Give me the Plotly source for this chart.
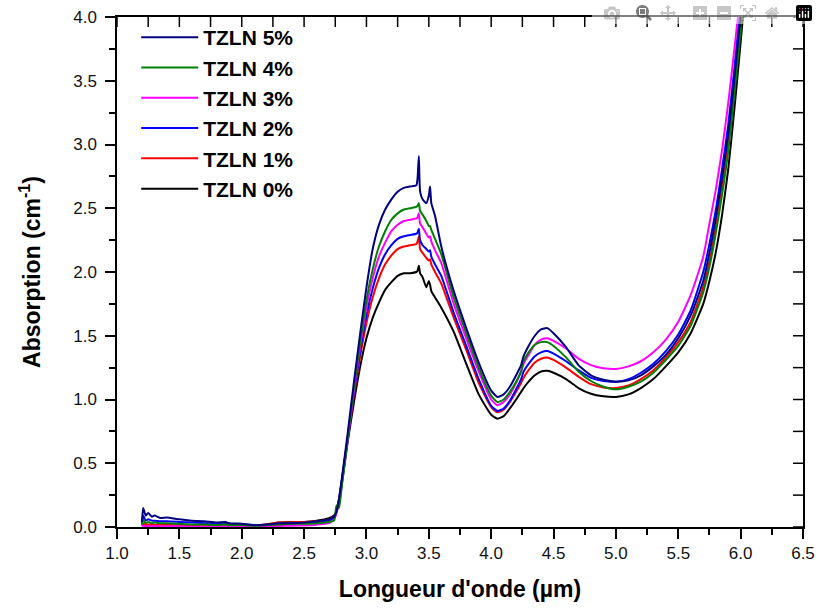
import plotly.graph_objects as go

# Wavelength grid (µm)
wavelength = [
    1.20, 1.21, 1.23, 1.25, 1.28, 1.30, 1.35, 1.40, 1.50, 1.60, 1.70, 1.80, 1.87, 1.90, 2.00, 2.10, 2.20, 2.30, 2.40, 2.50, 2.60, 2.70,
    2.74, 2.76, 2.78, 2.80, 2.85, 2.90, 2.95, 3.00, 3.05, 3.10, 3.15, 3.20, 3.25, 3.30, 3.35, 3.40,
    3.41, 3.42, 3.43, 3.45, 3.48, 3.50, 3.51, 3.52, 3.55, 3.60,
    3.70, 3.80, 3.90, 4.00, 4.05, 4.10, 4.15, 4.20, 4.24, 4.26, 4.30, 4.35, 4.40, 4.45, 4.50, 4.60, 4.70, 4.80, 4.90,
    5.00, 5.10, 5.20, 5.30, 5.40, 5.50, 5.60, 5.70, 5.75, 5.80, 5.85, 5.90, 5.95, 6.00, 6.05,
]

tzln_5 = [
    0.04, 0.15, 0.09, 0.11, 0.08, 0.09, 0.07, 0.075, 0.06, 0.05, 0.045, 0.035, 0.04, 0.03, 0.025, 0.015, 0.02, 0.03, 0.03, 0.035, 0.045, 0.06,
    0.08, 0.12, 0.22, 0.36, 0.74, 1.14, 1.52, 1.88, 2.18, 2.37, 2.49, 2.57, 2.63, 2.66, 2.67, 2.68,
    2.74, 2.91, 2.63, 2.57, 2.54, 2.60, 2.67, 2.54, 2.44, 2.20,
    1.85, 1.56, 1.29, 1.07, 1.02, 1.04, 1.10, 1.19, 1.27, 1.34, 1.42, 1.50, 1.55, 1.56, 1.52, 1.41, 1.27, 1.19, 1.155,
    1.14, 1.15, 1.19, 1.26, 1.35, 1.48, 1.66, 1.93, 2.15, 2.42, 2.73, 3.08, 3.52, 4.02, 4.55,
]

tzln_4 = [
    0.02, 0.06, 0.03, 0.04, 0.03, 0.035, 0.03, 0.03, 0.025, 0.02, 0.02, 0.015, 0.02, 0.015, 0.015, 0.01, 0.015, 0.02, 0.025, 0.025, 0.03, 0.04,
    0.05, 0.17, 0.15, 0.30, 0.70, 1.10, 1.45, 1.78, 2.02, 2.20, 2.32, 2.41, 2.46, 2.49, 2.50, 2.51,
    2.52, 2.54, 2.48, 2.45, 2.40, 2.36, 2.36, 2.33, 2.26, 2.14,
    1.80, 1.52, 1.25, 1.03, 0.98, 1.00, 1.06, 1.14, 1.22, 1.30, 1.37, 1.43, 1.45, 1.45, 1.42, 1.33, 1.22, 1.145, 1.10,
    1.08, 1.10, 1.14, 1.21, 1.31, 1.42, 1.58, 1.84, 2.04, 2.30, 2.60, 2.94, 3.40, 3.90, 4.45,
]

tzln_3 = [
    0.005, 0.01, 0.005, 0.008, 0.005, 0.006, 0.005, 0.005, 0.005, 0.004, 0.004, 0.004, 0.006, 0.004, 0.004, 0.003, 0.005, 0.008, 0.01, 0.012, 0.018, 0.03,
    0.06, 0.11, 0.21, 0.34, 0.70, 1.08, 1.42, 1.72, 1.95, 2.12, 2.23, 2.32, 2.37, 2.40, 2.41, 2.42,
    2.43, 2.46, 2.38, 2.35, 2.30, 2.27, 2.28, 2.24, 2.17, 2.07,
    1.75, 1.48, 1.22, 1.00, 0.955, 0.98, 1.04, 1.13, 1.22, 1.28, 1.35, 1.43, 1.47, 1.48, 1.46, 1.40, 1.32, 1.27, 1.245,
    1.24, 1.26, 1.30, 1.37, 1.47, 1.61, 1.82, 2.12, 2.38, 2.64, 2.95, 3.32, 3.75, 4.20, 4.70,
]

tzln_2 = [
    0.03, 0.09, 0.05, 0.06, 0.05, 0.05, 0.045, 0.045, 0.04, 0.035, 0.03, 0.025, 0.03, 0.025, 0.02, 0.012, 0.015, 0.025, 0.028, 0.03, 0.035, 0.05,
    0.07, 0.12, 0.22, 0.35, 0.70, 1.06, 1.38, 1.66, 1.87, 2.03, 2.14, 2.21, 2.26, 2.28, 2.29, 2.30,
    2.31, 2.34, 2.25, 2.21, 2.18, 2.16, 2.17, 2.12, 2.06, 1.97,
    1.68, 1.42, 1.16, 0.95, 0.91, 0.93, 0.99, 1.08, 1.16, 1.22, 1.28, 1.34, 1.37, 1.38, 1.36, 1.30, 1.23, 1.17, 1.145,
    1.14, 1.16, 1.21, 1.28, 1.38, 1.51, 1.70, 2.00, 2.22, 2.48, 2.80, 3.15, 3.60, 4.10, 4.60,
]

tzln_1 = [
    0.015, 0.03, 0.02, 0.02, 0.018, 0.018, 0.015, 0.015, 0.015, 0.012, 0.012, 0.012, 0.02, 0.015, 0.015, 0.012, 0.02, 0.035, 0.038, 0.04, 0.045, 0.06,
    0.08, 0.12, 0.21, 0.34, 0.69, 1.04, 1.34, 1.60, 1.80, 1.95, 2.06, 2.13, 2.18, 2.20, 2.21, 2.22,
    2.24, 2.28, 2.18, 2.15, 2.11, 2.09, 2.10, 2.06, 2.00, 1.91,
    1.64, 1.39, 1.13, 0.94, 0.90, 0.92, 0.98, 1.06, 1.13, 1.17, 1.23, 1.29, 1.32, 1.33, 1.31, 1.25, 1.18, 1.12, 1.095,
    1.09, 1.11, 1.16, 1.23, 1.33, 1.45, 1.61, 1.88, 2.08, 2.35, 2.65, 3.00, 3.45, 3.95, 4.50,
]

tzln_0 = [
    0.01, 0.02, 0.012, 0.015, 0.012, 0.012, 0.01, 0.01, 0.01, 0.01, 0.012, 0.02, 0.03, 0.025, 0.02, 0.01, 0.02, 0.035, 0.04, 0.04, 0.05, 0.07,
    0.09, 0.12, 0.20, 0.32, 0.67, 0.98, 1.26, 1.48, 1.64, 1.76, 1.86, 1.92, 1.97, 1.99, 1.99, 2.00,
    2.01, 2.05, 1.99, 1.96, 1.88, 1.93, 1.90, 1.85, 1.80, 1.72,
    1.53, 1.28, 1.04, 0.88, 0.85, 0.87, 0.93, 1.00, 1.06, 1.09, 1.14, 1.19, 1.22, 1.225, 1.21, 1.16, 1.09, 1.045, 1.025,
    1.02, 1.04, 1.09, 1.16, 1.26, 1.37, 1.52, 1.75, 1.93, 2.15, 2.44, 2.80, 3.28, 3.80, 4.35,
]

series_names = ["TZLN 0%", "TZLN 1%", "TZLN 2%", "TZLN 3%", "TZLN 4%", "TZLN 5%"]
series_values = [tzln_0, tzln_1, tzln_2, tzln_3, tzln_4, tzln_5]
series_colors = ["#000000", "#ff0000", "#0000ff", "#ff00ff", "#008000", "#000080"]

# inner tick positions of the top and right frame edges (every 0.25)
top_ticks = [1.0 + 0.25 * i for i in range(23)]
right_ticks = [0.25 * i for i in range(17)]

FONT = "Arial, Liberation Sans, sans-serif"

fig = go.Figure()
for name, vals, col in zip(series_names, series_values, series_colors):
    fig.add_trace(go.Scatter(x=wavelength, y=vals, mode="lines", name=name,
                             line=dict(color=col, width=2, shape="spline", smoothing=0.5)))

axis_common = dict(showgrid=False, zeroline=False, showline=True, linecolor="black", linewidth=1.5,
                   mirror=True, automargin=False, ticklabeloverflow="allow",
                   tickcolor="black", tickwidth=1.5, tickfont=dict(family=FONT, size=17, color="#111"))

shapes = []
for t in top_ticks:
    shapes.append(dict(type="line", xref="x", yref="paper", x0=t, x1=t,
                       ysizemode="pixel", yanchor=1, y0=0, y1=-10,
                       line=dict(color="black", width=1.5), layer="above"))
for t in right_ticks:
    shapes.append(dict(type="line", xref="paper", yref="y", y0=t, y1=t,
                       xsizemode="pixel", xanchor=1, x0=0, x1=-10,
                       line=dict(color="black", width=1.5), layer="above"))

fig.update_layout(
    template="none",
    width=818, height=610,
    margin=dict(l=117, r=15, t=17, b=83, autoexpand=False),
    plot_bgcolor="white", paper_bgcolor="white",
    showlegend=True,
    legend=dict(x=0.028, y=1.0, xanchor="left", yanchor="top", traceorder="reversed",
                font=dict(family=FONT, size=21, color="black", weight="bold"),
                bgcolor="rgba(0,0,0,0)", itemwidth=57, tracegroupgap=0),
    xaxis=dict(range=[1.0, 6.5], tick0=1.0, dtick=0.5, tickformat=".1f", ticks="outside", ticklen=10,
               minor=dict(ticks="outside", ticklen=6, dtick=0.25, tick0=1.0, tickcolor="black", tickwidth=1.5),
               title=dict(text="Longueur d'onde (µm)", standoff=19,
                          font=dict(family=FONT, size=23, color="black", weight="bold")),
               **axis_common),
    yaxis=dict(range=[0, 4.0], tick0=0, dtick=0.5, tickformat=".1f", ticks="outside", ticklen=10,
               ticklabelstandoff=5,
               minor=dict(ticks="outside", ticklen=6, dtick=0.25, tick0=0, tickcolor="black", tickwidth=1.5),
               title=dict(text="Absorption (cm<sup>-1</sup>)", standoff=26,
                          font=dict(family=FONT, size=23, color="black", weight="bold")),
               **axis_common),
    shapes=shapes,
)

# remove the browser's default 8px page margin so the 818x610 figure fills the window exactly
fig.write_html("out.html", post_script="document.body.style.margin='0px';")
